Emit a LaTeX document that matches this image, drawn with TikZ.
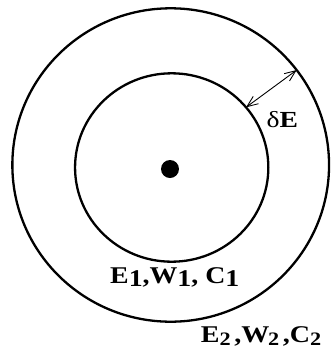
\documentclass[tikz,border=0pt]{standalone}
\usepackage{graphicx}
\usepackage{fontspec}
\setmainfont{Liberation Serif}
\usetikzlibrary{shapes.geometric,arrows.meta}
\newcommand{\lowone}[1]{\lower3pt\hbox{#1}}
\newcommand{\lowtwo}[1]{\lower3pt\hbox{\fontsize{19}{20}\selectfont #1}}
\begin{document}
\begin{tikzpicture}[x=1pt,y=-1pt,
  ring/.style={draw, ellipse, line width=2.3pt, inner sep=0pt, outer sep=0pt},
  lbl/.style={font=\fontsize{24}{26}\selectfont\bfseries, inner sep=0pt, anchor=base west},
  dbl/.style={line width=0.9pt, {Straight Barb[length=11pt,width=9pt]}-{Straight Barb[length=11pt,width=9pt]}}]
\useasboundingbox (0,0) rectangle (334,360);
\node[ring, minimum width=316.7pt, minimum height=313.4pt] (outer) at (170.7,165) {};
\node[ring, minimum width=193.3pt, minimum height=188.4pt] (inner) at (171.7,167.5) {};
\node[circle, fill, inner sep=0pt, minimum size=18pt] (dot) at (170,169) {};
\draw[dbl] (inner.39.6) -- (outer.37.9);
\node[lbl] (de) at (266.5,127.3) {\scalebox{1.2}[1]{\normalfont\fontsize{23}{24}\selectfont δ\bfseries E}};
\node[lbl] (l1) at (110,283.3) {\scalebox{1.16}[1]{E\lowone{1},W\lowone{1}, C\lowone{1}}};
\node[lbl] (l2) at (200.7,342.3) {\scalebox{1.17}[1]{E\lowtwo{2}\kern3pt,W\kern-1pt\lowtwo{2}\kern3pt,C\lowtwo{2}}};
\end{tikzpicture}
\end{document}
